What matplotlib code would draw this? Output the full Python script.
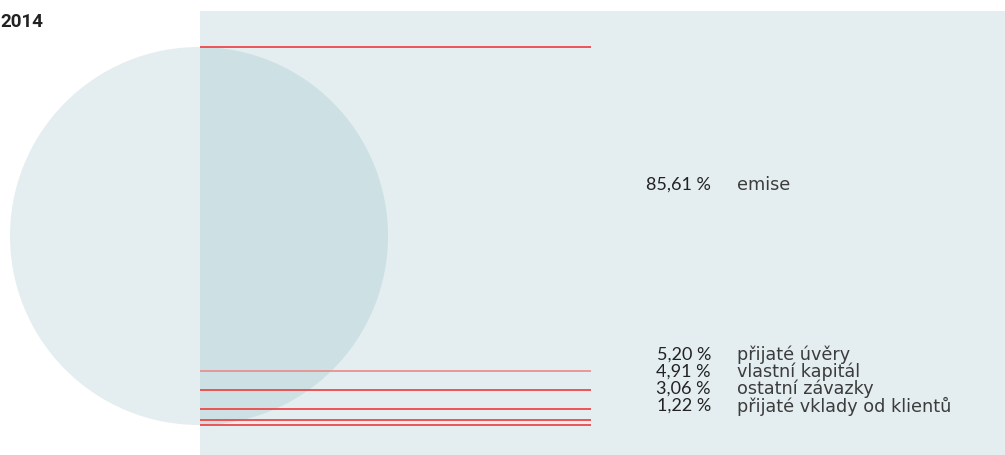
import numpy as np
import matplotlib.pyplot as plt
from matplotlib.patches import Circle, Rectangle

# data
year = "2014"
categories = ["emise", "přijaté úvěry", "vlastní kapitál", "ostatní závazky",
              "přijaté vklady od klientů"]
shares = [85.61, 5.20, 4.91, 3.06, 1.22]

plt.rcParams['font.family'] = ['DejaVu Sans']

fig = plt.figure(figsize=(10.05, 4.56), dpi=100)
ax = fig.add_axes([0, 0, 1, 1])
ax.set_xlim(0, 1005)
ax.set_ylim(456, 0)
ax.axis('off')

# background panel
panel = Rectangle((200, 12), 805, 444, facecolor='#e4edf0', edgecolor='none', zorder=1)
ax.add_patch(panel)

# circle, darker where it overlaps the panel
cx, cy, r = 199, 237, 189
ax.add_patch(Circle((cx, cy), r, facecolor='#e4edf0', edgecolor='none', zorder=2))
inner = Circle((cx, cy), r, facecolor='#cde0e4', edgecolor='none', zorder=3)
ax.add_patch(inner)
inner.set_clip_path(panel)

# red lines at cumulative boundaries along circle height
top = cy - r
bounds = top + 2 * r * np.concatenate([[0], np.cumsum(shares)]) / 100.0
for i, y in enumerate(bounds):
    col = '#e98a88' if i == 1 else '#ee3b3b'
    ax.plot([200, 591], [y, y], color=col, lw=1.2, zorder=4, solid_capstyle='butt')

# labels
label_y = [185, 355, 372, 389, 406]
for v, name, y in zip(shares, categories, label_y):
    ax.text(711, y, f"{v:.2f} %".replace('.', ','), ha='right', va='center',
            fontsize=13, family=['Lato', 'DejaVu Sans'], color='#222222', zorder=5)
    ax.text(737, y, name, ha='left', va='center', fontsize=12.7,
            color='#3c3c3c', zorder=5)

ax.text(0, 22, year, ha='left', va='center', fontsize=13.5, fontweight='bold',
        family=['Roboto', 'DejaVu Sans'], color='#222222')

fig.savefig('out.png', dpi=100)
